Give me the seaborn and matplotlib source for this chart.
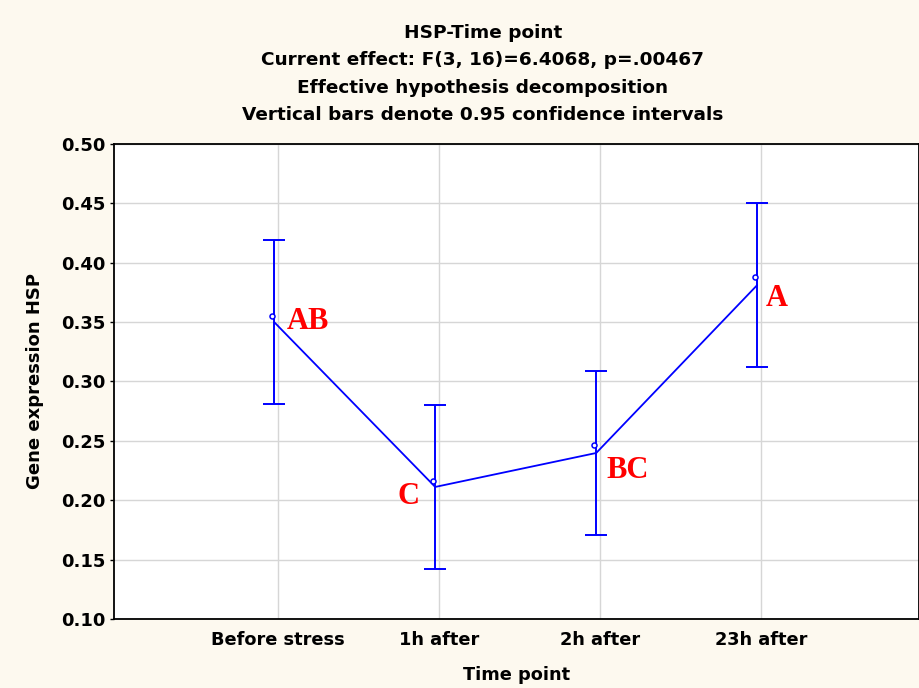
import matplotlib
matplotlib.use("Agg")
import matplotlib.pyplot as plt
import matplotlib.transforms as mtransforms
import numpy as np
import pandas as pd
import seaborn as sns

# values
time_points = ["Before stress", "1h after", "2h after", "23h after"]
means = [0.3500, 0.2112, 0.2398, 0.3812]
ci_low = [0.2810, 0.1421, 0.1707, 0.3122]
ci_high = [0.4192, 0.2802, 0.3088, 0.4503]
marker_means = [0.3526, 0.2137, 0.2440, 0.3855]
group_letters = ["AB", "C", "BC", "A"]

title_lines = [
    "HSP-Time point",
    "Current effect: F(3, 16)=6.4068, p=.00467",
    "Effective hypothesis decomposition",
    "Vertical bars denote 0.95 confidence intervals",
]

BG = "#fdf9ef"
BLUE = "#0000ff"


def main():
    sns.set_theme(style="white")
    plt.rcParams["font.family"] = ["DejaVu Sans"]
    plt.rcParams["text.color"] = "black"
    plt.rcParams["axes.labelcolor"] = "black"
    plt.rcParams["xtick.color"] = "black"
    plt.rcParams["ytick.color"] = "black"

    df = pd.DataFrame({
        "pos": np.arange(len(time_points)),
        "mean": means,
        "low": ci_low,
        "high": ci_high,
        "marker": marker_means,
    })

    fig = plt.figure(figsize=(9.2, 6.88), dpi=100, facecolor=BG)
    ax = fig.add_axes([0.1239, 0.1003, 0.875, 0.6904])
    ax.set_facecolor("white")

    # error bars/line sit a few pixels left of the category gridline
    shift = mtransforms.ScaledTranslation(-4 / 100, 0, fig.dpi_scale_trans)
    shift_m = mtransforms.ScaledTranslation(-6 / 100, 3 / 100, fig.dpi_scale_trans)

    sns.lineplot(data=df, x="pos", y="mean", color=BLUE, lw=1.3,
                 ax=ax, transform=ax.transData + shift, zorder=3)
    ax.errorbar(df["pos"], df["mean"],
                yerr=[df["mean"] - df["low"], df["high"] - df["mean"]],
                fmt="none", ecolor=BLUE, elinewidth=1.4, capsize=8, capthick=1.4,
                transform=ax.transData + shift, zorder=3)
    ax.plot(df["pos"], df["marker"], ls="none", marker="o", ms=3.6,
            mfc="white", mec=BLUE, mew=1.1,
            transform=ax.transData + shift_m, zorder=4)

    # significance letters (offsets in pixels from the point)
    offsets = [(9, 1, "left"), (-20, -10, "right"), (6, -18, "left"), (5, -13, "left")]
    for i, letter in enumerate(group_letters):
        dx, dy, ha = offsets[i]
        ax.annotate(letter, (df["pos"][i], df["mean"][i]),
                    xytext=(dx * 0.72, dy * 0.72), textcoords="offset points",
                    ha=ha, va="center", color="red", fontsize=22,
                    fontweight="bold", family="Liberation Serif", zorder=5)

    ax.set_xlim(-1.02, 3.98)
    ax.set_ylim(0.10, 0.50)
    ax.set_yticks(np.arange(0.10, 0.501, 0.05))
    ax.set_yticklabels([f"{v:.2f}" for v in np.arange(0.10, 0.501, 0.05)])
    ax.set_xticks(range(len(time_points)))
    ax.set_xticklabels(time_points)

    ax.grid(True, color="#d6d6d6", lw=1.0)
    ax.set_axisbelow(True)
    for s in ax.spines.values():
        s.set_visible(True)
        s.set_color("black")
        s.set_linewidth(1.3)

    ax.tick_params(axis="y", direction="out", length=3, width=1, pad=3,
                   labelsize=13, left=True, right=True)
    ax.tick_params(axis="x", length=0, pad=9, labelsize=12.8)
    for lab in ax.get_xticklabels() + ax.get_yticklabels():
        lab.set_fontweight("bold")

    ax.set_xlabel("Time point", fontsize=12.8, fontweight="bold", labelpad=12)
    ax.set_ylabel("Gene expression HSP", fontsize=13, fontweight="bold")
    ax.yaxis.set_label_coords(-0.087, 0.5)

    y0 = 1 - 33 / 688
    for k, line in enumerate(title_lines):
        fig.text(0.525, y0 - k * 27.3 / 688, line, ha="center", va="center",
                 fontsize=13.3, fontweight="bold")

    fig.savefig("out.png", dpi=100, facecolor=BG)
    plt.close(fig)


if __name__ == "__main__":
    main()
